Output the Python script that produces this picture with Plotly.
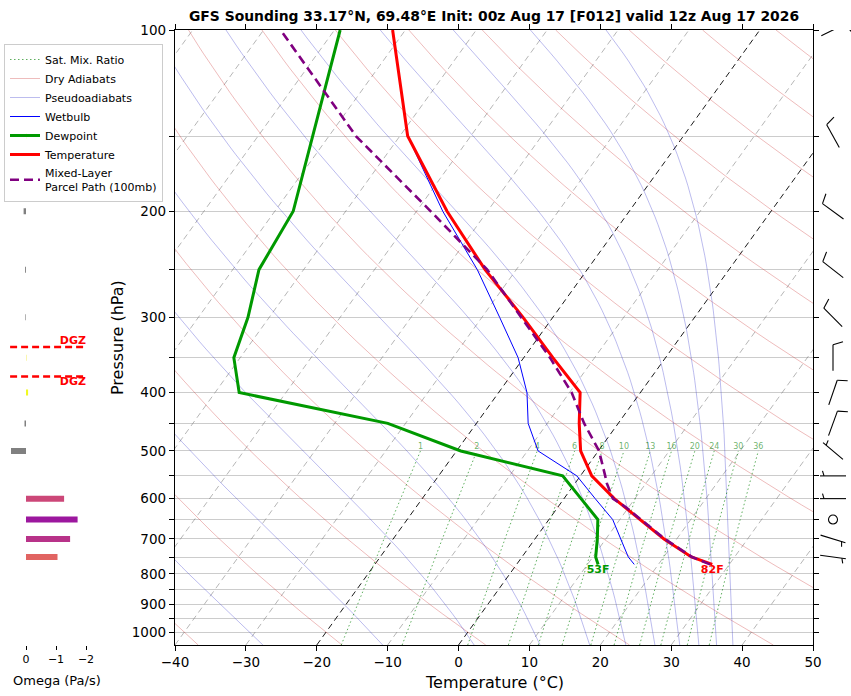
import numpy as np
import plotly.graph_objects as go

FIG_W, FIG_H = 851, 696
FONT = "DejaVu Sans"

TITLE = "GFS Sounding 33.17°N, 69.48°E Init: 00z Aug 17 [F012] valid 12z Aug 17 2026"

# sounding profile, first level is the surface
pressure = [771.6, 750, 700, 650, 600, 550, 500, 450, 400, 350, 300, 250, 200, 150, 100]
temperature = [27.6, 23.9, 18.2, 12.9, 7.1, 1.6, -2.5, -5.5, -8.5, -15.9, -24.2, -34.4, -45.7, -58.9, -71.8]
dewpoint = [11.5, 10.4, 8.8, 6.9, 2.4, -2.5, -19.4, -32.5, -56.6, -60.9, -63.0, -66.3, -67.4, -72.3, -79.2]
wetbulb = [16.6, 15.0, 12.1, 9.0, 4.4, -0.5, -8.5, -12.7, -16.0, -20.8, -27.5, -35.5, -46.3, -58.9, -71.8]

# mixed-layer parcel path
parcel_pressure = [771.6, 750, 700, 650, 620, 600, 566, 550, 500, 450, 400, 350, 300, 250, 200, 150, 100]
parcel_temp = [27.3, 24.0, 18.3, 12.9, 9.6, 6.9, 4.5, 3.5, 0.1, -4.8, -9.7, -16.3, -24.5, -34.1, -48.0, -66.2, -87.6]

# omega bars (Pa/s) and their colours
omega_pressure = [150, 200, 250, 300, 350, 400, 450, 500, 600, 650, 700, 750]
omega = [-0.03, 0.08, 0.03, 0.02, -0.02, -0.07, 0.05, 0.5, -1.27, -1.72, -1.47, -1.05]
omega_colors = ["#f0f921", "#808080", "#808080", "#808080", "#f5f07a", "#f0f921",
                "#808080", "#808080", "#cc4778", "#9c179e", "#b83289", "#e16462"]

# dendritic growth zone bounds (hPa)
dgz_pressure = [336, 376]

# winds: direction (deg from), speed (kt)
wind_pressure = [100, 150, 200, 250, 300, 350, 400, 450, 500, 550, 600, 650, 700, 750]
wind_dir = [64, 331, 306, 308, 315, 0, 19, 20, 310, 270, 270, 0, 107, 98]
wind_speed = [10, 10, 10, 10, 10, 10, 10, 10, 5, 5, 5, 0, 5, 5]

# background lines
isotherms = [-130, -120, -110, -100, -90, -80, -70, -60, -50, -40, -30, -20, -10, 0, 10, 20, 30, 40, 50]
highlight_isotherms = [-20, 0]
dry_adiabats = [-40, -20, 0, 20, 40, 60, 80, 100, 120, 140, 160, 180, 200, 220, 240]
moist_adiabats = [-27.6, -10.7, 2.2, 11.5, 18.5, 23.6, 27.7, 31.2, 33.9, 36.4, 38.7]
mixing_ratios = [1, 2, 4, 6, 8, 10, 13, 16, 20, 24, 30, 36]

P_BOTTOM, P_TOP = 1050.0, 100.0
SKEW = 61.2  # degC shift per decade of pressure

# plot box in pixels
BOX_L, BOX_R, BOX_T, BOX_B = 175, 813, 30, 645
PX_PER_DECADE = (BOX_B - BOX_T) / np.log10(P_BOTTOM / P_TOP)


def skew_x(t, p):
    return np.asarray(t, float) + SKEW * np.log10(P_BOTTOM / np.asarray(p, float))


def sat_vapor_pressure(tc):
    return 6.112 * np.exp(17.67 * tc / (tc + 243.5))


def dewpoint_from_mixing(w_gkg, p):
    w = w_gkg / 1000.0
    e = w * np.asarray(p, float) / (0.622 + w)
    a = np.log(e / 6.112)
    return 243.5 * a / (17.67 - a)


def moist_profile(t_start, pres):
    Rd, cp, Lv, eps = 287.04, 1004.7, 2.501e6, 0.622

    def f(T, p):
        es = sat_vapor_pressure(T - 273.15)
        rs = eps * es / (p - es)
        return (Rd * T + Lv * rs) / (cp + Lv * Lv * rs * eps / (Rd * T * T))

    T = t_start + 273.15
    out = [T]
    for p0, p1 in zip(pres[:-1], pres[1:]):
        h = np.log(p1) - np.log(p0)
        pm = np.exp(np.log(p0) + h / 2)
        k1 = f(T, p0)
        k2 = f(T + h * k1 / 2, pm)
        k3 = f(T + h * k2 / 2, pm)
        k4 = f(T + h * k3, p1)
        T = T + h * (k1 + 2 * k2 + 2 * k3 + k4) / 6
        out.append(T)
    return np.array(out) - 273.15


def joined(segments):
    xs, ys = [], []
    for x, y in segments:
        xs += list(x) + [None]
        ys += list(y) + [None]
    return xs, ys


def line(x, y, color, width, dash=None, name=None, rank=None, **kw):
    return go.Scatter(
        x=x, y=y, mode="lines",
        line=dict(color=color, width=width, dash=dash),
        name=name, showlegend=name is not None, legendrank=rank or 1000,
        hoverinfo="skip", **kw,
    )


fig = go.Figure()
p_full = np.geomspace(P_BOTTOM, P_TOP, 80)

# isotherms
segs = [(skew_x([t, t], [P_BOTTOM, P_TOP]), [P_BOTTOM, P_TOP]) for t in isotherms if t not in highlight_isotherms]
fig.add_trace(line(*joined(segs), "rgba(120,120,120,0.6)", 0.9, dash="6px,4px"))
segs = [(skew_x([t, t], [P_BOTTOM, P_TOP]), [P_BOTTOM, P_TOP]) for t in highlight_isotherms]
fig.add_trace(line(*joined(segs), "black", 0.9, dash="6px,4px"))

# dry adiabats
segs = []
for t0 in dry_adiabats:
    theta = t0 + 273.15
    t = theta * (p_full / 1000.0) ** 0.2857 - 273.15
    segs.append((skew_x(t, p_full), p_full))
fig.add_trace(line(*joined(segs), "rgba(200,40,40,0.35)", 0.9, name="Dry Adiabats", rank=2))

# pseudoadiabats
segs = []
for t0 in moist_adiabats:
    t = moist_profile(t0, p_full)
    segs.append((skew_x(t, p_full), p_full))
fig.add_trace(line(*joined(segs), "rgba(40,40,200,0.35)", 0.9, name="Pseudoadiabats", rank=3))

# saturation mixing ratio lines up to 500 hPa
p_mix = np.geomspace(P_BOTTOM, 500, 20)
segs = [(skew_x(dewpoint_from_mixing(w, p_mix), p_mix), p_mix) for w in mixing_ratios]
fig.add_trace(line(*joined(segs), "rgba(0,128,0,0.7)", 0.9, dash="1.5px,2.5px", name="Sat. Mix. Ratio", rank=1))
fig.add_trace(go.Scatter(
    x=[float(skew_x(dewpoint_from_mixing(w, 500), 500)) for w in mixing_ratios],
    y=[500] * len(mixing_ratios),
    mode="text", text=[str(w) for w in mixing_ratios], textposition="top center",
    textfont=dict(family=FONT, size=8, color="rgba(0,128,0,0.6)"),
    showlegend=False, hoverinfo="skip",
))

# profiles
fig.add_trace(line(skew_x(wetbulb, pressure), pressure, "#0000ff", 1, name="Wetbulb", rank=4))
fig.add_trace(line(skew_x(dewpoint, pressure), pressure, "#009900", 3, name="Dewpoint", rank=5))
fig.add_trace(line(skew_x(temperature, pressure), pressure, "#ff0000", 3, name="Temperature", rank=6))
fig.add_trace(line(skew_x(parcel_temp, parcel_pressure), parcel_pressure, "#800080", 2.6,
                   dash="9px,5px", name="Mixed-Layer<br>Parcel Path (100mb)", rank=7))

# surface labels in Fahrenheit
for t, col in [(temperature[0], "#ff0000"), (dewpoint[0], "#009900")]:
    fig.add_trace(go.Scatter(
        x=[float(skew_x(t, pressure[0]))], y=[pressure[0]], mode="text",
        text=[f"<b>{round(t * 9 / 5 + 32)}F</b>"], textposition="bottom center",
        textfont=dict(family=FONT, size=11, color=col),
        showlegend=False, hoverinfo="skip",
    ))

# omega panel
for p, w, c in zip(omega_pressure, omega, omega_colors):
    fig.add_trace(go.Scatter(
        x=[0, w], y=[p, p], mode="lines", line=dict(color=c, width=6),
        xaxis="x2", yaxis="y2", showlegend=False, hoverinfo="skip",
    ))
for p in dgz_pressure:
    fig.add_trace(go.Scatter(
        x=[0.53, -2.0], y=[p, p], mode="lines", line=dict(color="red", width=2.5, dash="7px,4px"),
        xaxis="x2", yaxis="y2", showlegend=False, hoverinfo="skip",
    ))
fig.add_trace(go.Scatter(
    x=[-2.0, -2.0], y=dgz_pressure, mode="text", text=["<b>DGZ</b>", "<b>DGZ</b>"],
    textposition=["top left", "bottom left"],
    textfont=dict(family=FONT, size=11, color="red"),
    xaxis="x2", yaxis="y2", showlegend=False, hoverinfo="skip",
))

# wind barbs (x units are pixels, centre at BARB_CX)
BARB_CX = 18.0
STAFF = 13.0


def to_panel(p, dx, dy_up):
    return BARB_CX + dx, p * 10 ** (-dy_up / PX_PER_DECADE)


barb_x, barb_y = [], []
calm_p = []
for p, d, s in zip(wind_pressure, wind_dir, wind_speed):
    if s <= 0:
        calm_p.append(p)
        continue
    ux, uy = np.sin(np.radians(d)), np.cos(np.radians(d))
    px_, py_ = uy, -ux
    pts = [to_panel(p, -STAFF * ux, -STAFF * uy), to_panel(p, STAFF * ux, STAFF * uy)]
    barb_x += [pts[0][0], pts[1][0], None]
    barb_y += [pts[0][1], pts[1][1], None]
    full, half = s // 10, (s % 10) >= 5
    pos = STAFF
    ticks = [10.0] * full + ([5.0] if half else [])
    if full == 0 and half:
        pos -= 4
    for ln in ticks:
        a = to_panel(p, pos * ux, pos * uy)
        b = to_panel(p, pos * ux + ln * px_ + 0.3 * ln * ux, pos * uy + ln * py_ + 0.3 * ln * uy)
        barb_x += [a[0], b[0], None]
        barb_y += [a[1], b[1], None]
        pos -= 4
fig.add_trace(go.Scatter(
    x=barb_x, y=barb_y, mode="lines", line=dict(color="black", width=1.1),
    xaxis="x3", yaxis="y3", showlegend=False, hoverinfo="skip",
))
fig.add_trace(go.Scatter(
    x=[BARB_CX] * len(calm_p), y=calm_p, mode="markers",
    marker=dict(symbol="circle-open", size=9, color="black", line=dict(width=1.1)),
    xaxis="x3", yaxis="y3", showlegend=False, hoverinfo="skip",
))

# layout
x_dom = [BOX_L / FIG_W, BOX_R / FIG_W]
y_dom = [1 - BOX_B / FIG_H, 1 - BOX_T / FIG_H]
y_range = [np.log10(P_BOTTOM), np.log10(P_TOP)]
p_ticks = list(range(100, 1001, 50))

fig.update_layout(
    width=FIG_W, height=FIG_H,
    margin=dict(l=0, r=0, t=0, b=0, pad=0, autoexpand=False),
    paper_bgcolor="white", plot_bgcolor="white",
    font=dict(family=FONT, size=13, color="black"),
    title=dict(text=f"<b>{TITLE}</b>", x=(BOX_L + BOX_R) / 2 / FIG_W, xanchor="center",
               y=1 - 16 / FIG_H, yanchor="middle", font=dict(size=13.9)),
    xaxis=dict(
        domain=x_dom, range=[-40, 50], anchor="y", automargin=False,
        tickvals=list(range(-40, 51, 10)),
        ticktext=[str(v).replace("-", "−") for v in range(-40, 51, 10)],
        ticks="outside", ticklen=5, tickcolor="black", showline=True, linecolor="black",
        linewidth=1.3, mirror="ticks", showgrid=False, zeroline=False,
        tickfont=dict(size=13.5),
    ),
    yaxis=dict(
        domain=y_dom, type="log", range=y_range, anchor="x", automargin=False,
        tickvals=p_ticks, ticktext=[str(v) if v % 100 == 0 else "" for v in p_ticks],
        ticks="outside", ticklen=5, tickcolor="black", showline=True, linecolor="black",
        linewidth=1.3, mirror="ticks", showgrid=True, gridcolor="#cccccc", gridwidth=1,
        zeroline=False, tickfont=dict(size=13.5),
    ),
    xaxis2=dict(
        domain=[9.5 / FIG_W, 87.5 / FIG_W], range=[0.55, -2.05], anchor="y2", automargin=False,
        tickvals=[0, -1, -2], ticktext=["0", "−1", "−2"], ticks="outside", ticklen=4,
        tickcolor="black", showline=False, showgrid=False, zeroline=False,
        tickfont=dict(size=11),
    ),
    yaxis2=dict(domain=y_dom, type="log", range=y_range, anchor="x2", visible=False, automargin=False),
    xaxis3=dict(domain=[815 / FIG_W, 1.0], range=[0, 36], anchor="y3", visible=False, automargin=False),
    yaxis3=dict(domain=y_dom, type="log", range=y_range, anchor="x3", visible=False, automargin=False),
    legend=dict(
        x=4 / FIG_W, y=1 - 44 / FIG_H, xanchor="left", yanchor="top",
        bgcolor="rgba(255,255,255,0.85)", bordercolor="#cccccc", borderwidth=1,
        font=dict(size=11), tracegroupgap=0, itemwidth=30,
    ),
    annotations=[
        dict(text="Temperature (°C)", x=(BOX_L + BOX_R) / 2 / FIG_W, y=1 - 682 / FIG_H,
             xref="paper", yref="paper", showarrow=False, font=dict(size=16),
             xanchor="center", yanchor="middle"),
        dict(text="Pressure (hPa)", x=117 / FIG_W, y=1 - 338 / FIG_H, textangle=-90,
             xref="paper", yref="paper", showarrow=False, font=dict(size=16),
             xanchor="center", yanchor="middle"),
        dict(text="Omega (Pa/s)", x=57 / FIG_W, y=1 - 680 / FIG_H,
             xref="paper", yref="paper", showarrow=False, font=dict(size=13),
             xanchor="center", yanchor="middle"),
    ],
)

fig.write_html(
    "out.html",
    config={"displayModeBar": False},
    post_script="document.body.style.margin = '0';",
)
